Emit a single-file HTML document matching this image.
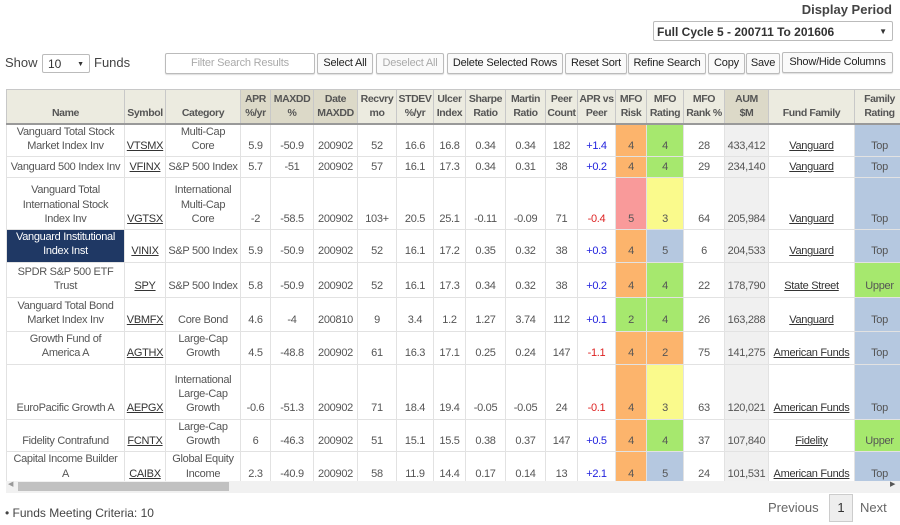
<!DOCTYPE html>
<html><head><meta charset="utf-8"><style>
body{margin:0;width:900px;height:525px;overflow:hidden;background:#fff;font-family:"Liberation Sans",sans-serif;color:#555;position:relative}
.abs{position:absolute}
.btn{position:absolute;top:53px;height:19px;border:1px solid #bbb;border-radius:2px;background:#fafafa;font-size:11px;letter-spacing:-0.2px;line-height:19px;text-align:center;color:#222;box-shadow:0 1px 1px #ddd;white-space:nowrap}
.wrap{position:absolute;left:6px;top:89px;width:894px;height:392px;overflow:hidden}
table{border-collapse:collapse;table-layout:fixed;width:898px;font-size:11px;line-height:14.3px;letter-spacing:-0.3px}
td,th{border:1px solid #e2e2e2;text-align:center;vertical-align:bottom;padding:0 0 3px;overflow:hidden;white-space:nowrap}
th{background:#ecebe0;color:#555;font-weight:bold;border-color:#c8c8c8;border-bottom:2px solid #999;padding-bottom:2px;font-size:10.5px;letter-spacing:-0.4px}
th.s{background:#dcd9c8}
td.a{background:#f0f0f0}
a{color:#333;text-decoration:underline}
.p{color:#2222dd}.n{color:#dd2222}
.o{background:#fcb46c}.g{background:#a6e86e}.r{background:#f99a9a}.y{background:#fafa8c}.b{background:#b5c8e0}
.sel{background:#1f3864;color:#fff}
</style></head><body>
<div class="abs" style="right:8px;top:2px;font-size:13px;font-weight:bold;color:#444">Display Period</div>
<div class="abs" style="left:653px;top:21px;width:240px;height:20px;border:1px solid #bbb;border-radius:2px;font-size:12px;font-weight:bold;color:#333;line-height:20px;padding-left:3px;box-sizing:border-box">Full Cycle 5 - 200711 To 201606<span style="position:absolute;right:5px;font-size:8px">▼</span></div>
<div class="abs" style="left:5px;top:55px;font-size:13px;color:#444">Show</div>
<div class="abs" style="left:42px;top:54px;width:48px;height:19px;border:1px solid #bbb;border-radius:2px;font-size:12px;line-height:19px;padding-left:5px;box-sizing:border-box;color:#333">10<span style="position:absolute;right:5px;font-size:7px">▼</span></div>
<div class="abs" style="left:94px;top:55px;font-size:13px;color:#444">Funds</div>
<div class="btn" style="left:165px;width:148px;color:#aaa;background:#fff">Filter Search Results</div>
<div class="btn" style="left:317px;width:54px">Select All</div>
<div class="btn" style="left:376px;width:66px;color:#aaa">Deselect All</div>
<div class="btn" style="left:447px;width:114px">Delete Selected Rows</div>
<div class="btn" style="left:565px;width:60px">Reset Sort</div>
<div class="btn" style="left:628px;width:76px">Refine Search</div>
<div class="btn" style="left:708px;width:35px">Copy</div>
<div class="btn" style="left:746px;width:32px">Save</div>
<div class="btn" style="left:782px;top:52px;width:109px">Show/Hide Columns</div>
<div class="wrap"><table>
<colgroup><col style="width:118px"><col style="width:41px"><col style="width:75px"><col style="width:30px"><col style="width:43px"><col style="width:44px"><col style="width:39px"><col style="width:37px"><col style="width:32px"><col style="width:40px"><col style="width:40px"><col style="width:32px"><col style="width:38px"><col style="width:31px"><col style="width:37px"><col style="width:41px"><col style="width:44px"><col style="width:86px"><col style="width:50px"></colgroup>
<tr style="height:34px"><th>Name</th><th>Symbol</th><th>Category</th><th class="s">APR<br>%/yr</th><th class="s">MAXDD<br>%</th><th class="s">Date<br>MAXDD</th><th>Recvry<br>mo</th><th>STDEV<br>%/yr</th><th>Ulcer<br>Index</th><th>Sharpe<br>Ratio</th><th>Martin<br>Ratio</th><th>Peer<br>Count</th><th>APR vs<br>Peer</th><th>MFO<br>Risk</th><th>MFO<br>Rating</th><th>MFO<br>Rank %</th><th class="s">AUM<br>$M</th><th>Fund Family</th><th>Family<br>Rating</th></tr>
<tr style="height:33px"><td>Vanguard Total Stock<br>Market Index Inv</td><td><a>VTSMX</a></td><td>Multi-Cap<br>Core</td><td>5.9</td><td>-50.9</td><td>200902</td><td>52</td><td>16.6</td><td>16.8</td><td>0.34</td><td>0.34</td><td>182</td><td class="p">+1.4</td><td class="o">4</td><td class="g">4</td><td>28</td><td class="a">433,412</td><td><a>Vanguard</a></td><td class="b">Top</td></tr>
<tr style="height:21px"><td>Vanguard 500 Index Inv</td><td><a>VFINX</a></td><td>S&amp;P 500 Index</td><td>5.7</td><td>-51</td><td>200902</td><td>57</td><td>16.1</td><td>17.3</td><td>0.34</td><td>0.31</td><td>38</td><td class="p">+0.2</td><td class="o">4</td><td class="g">4</td><td>29</td><td class="a">234,140</td><td><a>Vanguard</a></td><td class="b">Top</td></tr>
<tr style="height:52px"><td>Vanguard Total<br>International Stock<br>Index Inv</td><td><a>VGTSX</a></td><td>International<br>Multi-Cap<br>Core</td><td>-2</td><td>-58.5</td><td>200902</td><td>103+</td><td>20.5</td><td>25.1</td><td>-0.11</td><td>-0.09</td><td>71</td><td class="n">-0.4</td><td class="r">5</td><td class="y">3</td><td>64</td><td class="a">205,984</td><td><a>Vanguard</a></td><td class="b">Top</td></tr>
<tr style="height:32px"><td class="sel">Vanguard Institutional<br>Index Inst</td><td><a>VINIX</a></td><td>S&amp;P 500 Index</td><td>5.9</td><td>-50.9</td><td>200902</td><td>52</td><td>16.1</td><td>17.2</td><td>0.35</td><td>0.32</td><td>38</td><td class="p">+0.3</td><td class="o">4</td><td class="b">5</td><td>6</td><td class="a">204,533</td><td><a>Vanguard</a></td><td class="b">Top</td></tr>
<tr style="height:35px"><td>SPDR S&amp;P 500 ETF<br>Trust</td><td><a>SPY</a></td><td>S&amp;P 500 Index</td><td>5.8</td><td>-50.9</td><td>200902</td><td>52</td><td>16.1</td><td>17.3</td><td>0.34</td><td>0.32</td><td>38</td><td class="p">+0.2</td><td class="o">4</td><td class="g">4</td><td>22</td><td class="a">178,790</td><td><a>State Street</a></td><td class="g">Upper</td></tr>
<tr style="height:34px"><td>Vanguard Total Bond<br>Market Index Inv</td><td><a>VBMFX</a></td><td>Core Bond</td><td>4.6</td><td>-4</td><td>200810</td><td>9</td><td>3.4</td><td>1.2</td><td>1.27</td><td>3.74</td><td>112</td><td class="p">+0.1</td><td class="g">2</td><td class="g">4</td><td>26</td><td class="a">163,288</td><td><a>Vanguard</a></td><td class="b">Top</td></tr>
<tr style="height:33px"><td>Growth Fund of<br>America A</td><td><a>AGTHX</a></td><td>Large-Cap<br>Growth</td><td>4.5</td><td>-48.8</td><td>200902</td><td>61</td><td>16.3</td><td>17.1</td><td>0.25</td><td>0.24</td><td>147</td><td class="n">-1.1</td><td class="o">4</td><td class="o">2</td><td>75</td><td class="a">141,275</td><td><a>American Funds</a></td><td class="b">Top</td></tr>
<tr style="height:55px"><td>EuroPacific Growth A</td><td><a>AEPGX</a></td><td>International<br>Large-Cap<br>Growth</td><td>-0.6</td><td>-51.3</td><td>200902</td><td>71</td><td>18.4</td><td>19.4</td><td>-0.05</td><td>-0.05</td><td>24</td><td class="n">-0.1</td><td class="o">4</td><td class="y">3</td><td>63</td><td class="a">120,021</td><td><a>American Funds</a></td><td class="b">Top</td></tr>
<tr style="height:30px"><td>Fidelity Contrafund</td><td><a>FCNTX</a></td><td>Large-Cap<br>Growth</td><td>6</td><td>-46.3</td><td>200902</td><td>51</td><td>15.1</td><td>15.5</td><td>0.38</td><td>0.37</td><td>147</td><td class="p">+0.5</td><td class="o">4</td><td class="g">4</td><td>37</td><td class="a">107,840</td><td><a>Fidelity</a></td><td class="g">Upper</td></tr>
<tr style="height:32px"><td>Capital Income Builder<br>A</td><td><a>CAIBX</a></td><td>Global Equity<br>Income</td><td>2.3</td><td>-40.9</td><td>200902</td><td>58</td><td>11.9</td><td>14.4</td><td>0.17</td><td>0.14</td><td>13</td><td class="p">+2.1</td><td class="o">4</td><td class="b">5</td><td>24</td><td class="a">101,531</td><td><a>American Funds</a></td><td class="b">Top</td></tr>
</table></div>
<div class="abs" style="left:6px;top:481px;width:894px;height:12px;background:#f1f1f1"></div>
<div class="abs" style="left:18px;top:482px;width:211px;height:9px;background:#c1c1c1"></div>
<div class="abs" style="left:8px;top:480px;font-size:7px;color:#999">◀</div>
<div class="abs" style="left:890px;top:480px;font-size:7px;color:#555">▶</div>
<div class="abs" style="left:5px;top:506px;font-size:12px;color:#444">• Funds Meeting Criteria: 10</div>
<div class="abs" style="left:768px;top:500px;font-size:13px;color:#666">Previous</div>
<div class="abs" style="left:829px;top:494px;width:22px;height:26px;border:1px solid #ccc;background:#eee;font-size:13px;line-height:26px;text-align:center;color:#333">1</div>
<div class="abs" style="left:860px;top:500px;font-size:13px;color:#666">Next</div>
</body></html>
